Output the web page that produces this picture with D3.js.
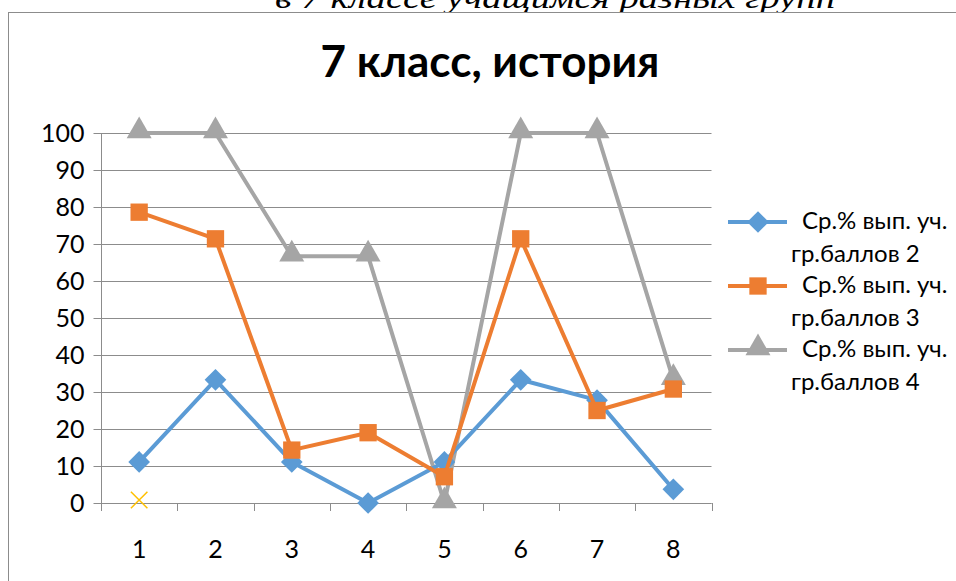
<!DOCTYPE html>
<html><head><meta charset="utf-8">
<script src="https://cdn.jsdelivr.net/npm/d3@7"></script>
<style>body{margin:0;background:#fff}svg{display:block}</style>
</head><body>
<svg id="c" width="956" height="581"></svg>
<script>
const categories = ["1","2","3","4","5","6","7","8"];
const series2 = [11.1, 33.3, 11.1, 0, 11.1, 33.3, 27.8, 3.7];
const series3 = [78.6, 71.4, 14.3, 19.0, 7.1, 71.4, 25.0, 30.8];
const series4 = [100, 100, 66.7, 66.7, 0, 100, 100, 33.3];
const extraPoint = [0.8];
const yTicks = [0,10,20,30,40,50,60,70,80,90,100];
const seriesNames = ["Ср.% вып. уч. гр.баллов 2","Ср.% вып. уч. гр.баллов 3","Ср.% вып. уч. гр.баллов 4"];
const title = "7 класс, история";
const topText = "в 7 классе учащимся разных групп";

const svg = d3.select("#c");
const font = "Lato, 'Open Sans', sans-serif";

// cut-off text above the chart
svg.append("text").attr("x", 275).attr("y", 8).attr("textLength", 560).attr("lengthAdjust","spacingAndGlyphs")
  .attr("font-family","'Liberation Serif', serif").attr("font-style","italic").attr("font-size",30).attr("fill","#000").text(topText);

svg.append("rect").attr("x",8.5).attr("y",12.5).attr("width",1000).attr("height",1000)
  .attr("fill","#fff").attr("stroke","#8c8c8c").attr("stroke-width",1);

svg.append("text").attr("x",490).attr("y",77).attr("text-anchor","middle")
  .attr("font-family",font).attr("font-weight","bold").attr("font-size",44).attr("fill","#000").text(title);

const x = d3.scaleBand().domain(categories).range([101, 711.5]);
const y = d3.scaleLinear().domain([0,100]).range([503,133]);
const cx = d => x(d) + x.bandwidth()/2;

// gridlines
svg.append("g").selectAll("line").data(yTicks).join("line")
  .attr("x1",101).attr("x2",711.5).attr("y1",d=>Math.round(y(d))+0.5).attr("y2",d=>Math.round(y(d))+0.5)
  .attr("stroke","#8c8c8c").attr("stroke-width",1);

const yAxis = svg.append("g").attr("transform","translate(101.5,0)")
  .call(d3.axisLeft(y).tickValues(yTicks).tickSize(8).tickPadding(9));
yAxis.select(".domain").attr("stroke","#8c8c8c").attr("d","M0,"+y(0)+"V"+y(100));
yAxis.selectAll(".tick line").attr("stroke","#8c8c8c");
yAxis.selectAll("text").attr("font-family",font).attr("font-size",25).attr("fill","#000");

const xAxis = svg.append("g").attr("transform","translate(0,503.5)")
  .call(d3.axisBottom(x).tickSize(0).tickPadding(37));
xAxis.select(".domain").attr("stroke","#8c8c8c").attr("d","M101,0H711.5");
xAxis.selectAll("text").attr("font-family",font).attr("font-size",25).attr("fill","#000");
// tick marks at band boundaries
const bounds = categories.map(c=>x(c)).concat([x.range()[1]]);
svg.append("g").selectAll("line").data(bounds).join("line")
  .attr("x1",d=>Math.round(d)+0.5).attr("x2",d=>Math.round(d)+0.5).attr("y1",503).attr("y2",511)
  .attr("stroke","#8c8c8c");

const colors = ["#5B9BD5","#ED7D31","#A5A5A5"];
const data = [series2, series3, series4];
const sym = [d3.symbolDiamond2, d3.symbolSquare, d3.symbolTriangle];
const symSize = [300, 300, 270];
const line = d3.line().x((d,i)=>cx(categories[i])).y(d=>y(d));

const order = [2,0,1];
order.forEach(k=>{
  const g = svg.append("g");
  g.append("path").datum(data[k]).attr("d",line).attr("fill","none")
    .attr("stroke",colors[k]).attr("stroke-width",4).attr("stroke-linejoin","round");
  g.selectAll("path.m").data(data[k]).join("path").attr("class","m")
    .attr("transform",(d,i)=>`translate(${cx(categories[i])},${y(d)+(k===2?-2:0)})`)
    .attr("d",d3.symbol().type(sym[k]).size(symSize[k])).attr("fill",colors[k]);
});

// extra marker
svg.append("g").selectAll("path").data(extraPoint).join("path")
  .attr("transform",(d,i)=>`translate(${cx(categories[i])},${y(d)})`)
  .attr("d",d3.symbol().type(d3.symbolX).size(180)).attr("fill","none").attr("stroke","#FFC000").attr("stroke-width",1.5);

// legend
const leg = svg.append("g");
seriesNames.forEach((name,k)=>{
  const cy = 222 + k*64;
  leg.append("line").attr("x1",728).attr("x2",787).attr("y1",cy).attr("y2",cy).attr("stroke",colors[k]).attr("stroke-width",4);
  leg.append("path").attr("transform",`translate(758,${cy+(k===2?-2:0)})`).attr("d",d3.symbol().type(sym[k]).size(symSize[k])).attr("fill",colors[k]);
  const parts = name.split(" гр.");
  leg.append("text").attr("x",802).attr("y",cy+7).attr("font-family",font).attr("font-size",24).attr("fill","#000").text(parts[0]);
  leg.append("text").attr("x",791).attr("y",cy+40).attr("font-family",font).attr("font-size",24).attr("fill","#000").text("гр."+parts[1]);
});
</script>
</body></html>
